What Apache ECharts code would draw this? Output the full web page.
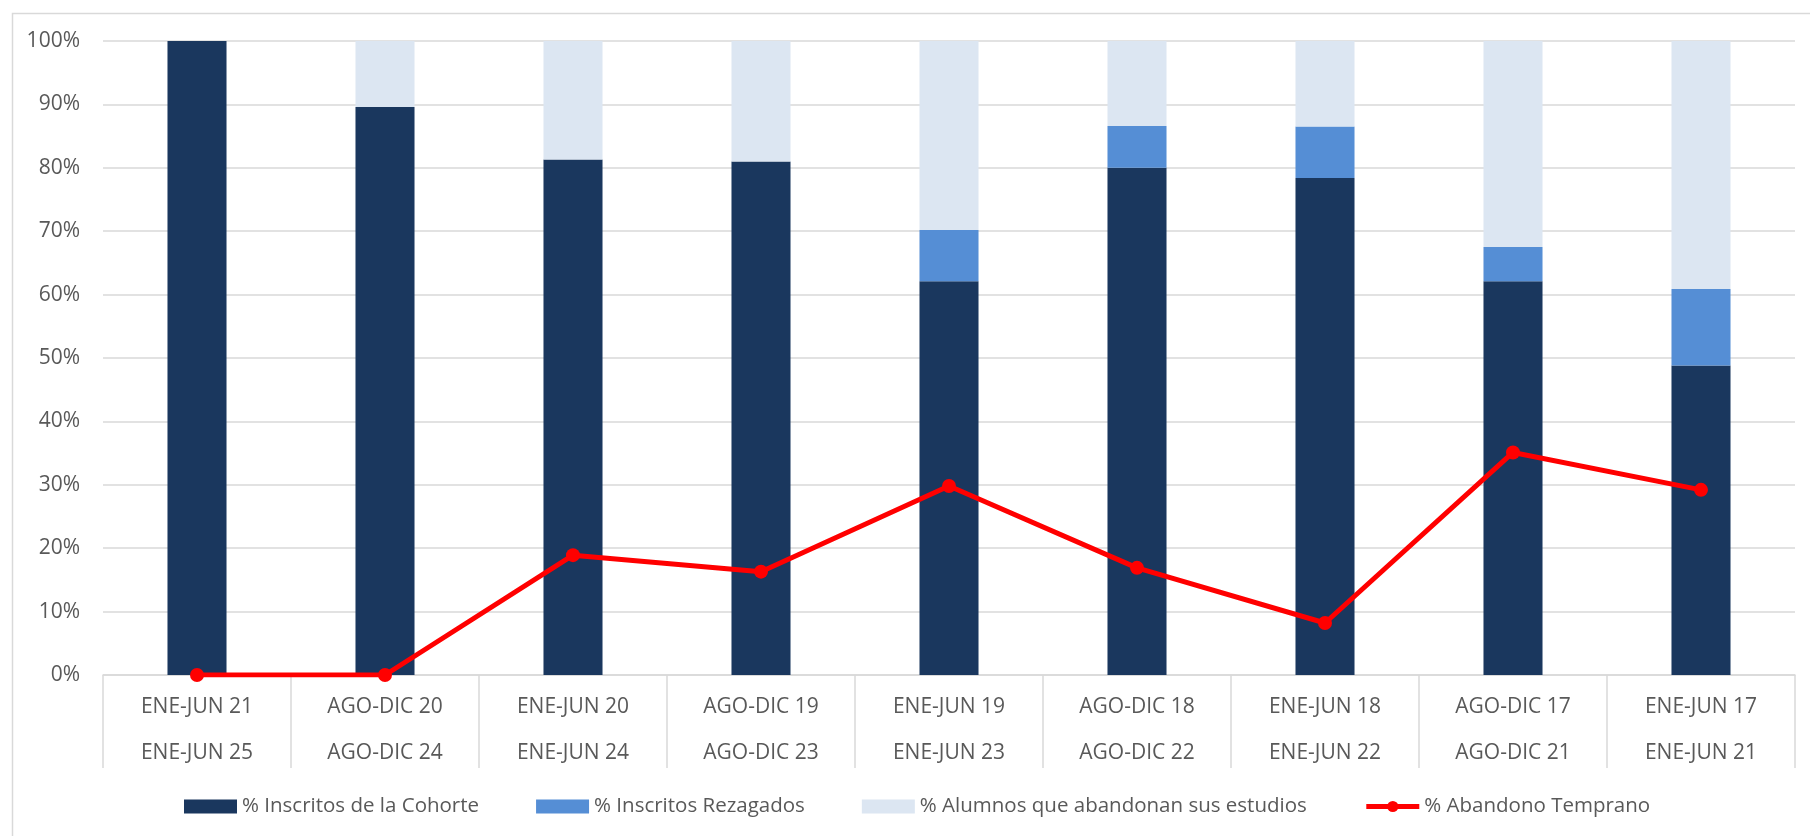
<!DOCTYPE html>
<html>
<head>
<meta charset="utf-8">
<script src="https://cdn.jsdelivr.net/npm/echarts@6/dist/echarts.min.js"></script>
<style>
html,body{margin:0;padding:0;background:#fff;}
#chart{width:1810px;height:836px;}
</style>
</head>
<body>
<div id="chart"></div>
<script>
const periodoIngreso = ['ENE-JUN 21','AGO-DIC 20','ENE-JUN 20','AGO-DIC 19','ENE-JUN 19','AGO-DIC 18','ENE-JUN 18','AGO-DIC 17','ENE-JUN 17'];
const periodoEgreso  = ['ENE-JUN 25','AGO-DIC 24','ENE-JUN 24','AGO-DIC 23','ENE-JUN 23','AGO-DIC 22','ENE-JUN 22','AGO-DIC 21','ENE-JUN 21'];
const inscritosCohorte = [100, 89.6, 81.3, 81.0, 62.1, 80.0, 78.4, 62.1, 48.8];
const inscritosRezagados = [0, 0, 0, 0, 8.1, 6.6, 8.1, 5.4, 12.1];
const alumnosAbandonan = [0, 10.4, 18.7, 19.0, 29.8, 13.4, 13.5, 32.5, 39.1];
const abandonoTemprano = [0, 0, 18.9, 16.3, 29.8, 16.9, 8.2, 35.1, 29.2];
const yTicks = [0,10,20,30,40,50,60,70,80,90,100];

const categories = periodoIngreso.map((p, i) => p + '\n' + periodoEgreso[i]);
const FONT = '"Open Sans", "Noto Sans", sans-serif';
const TXT = '#595959';
const GRID = '#D9D9D9';
const RED = '#FF0000';

const chart = echarts.init(document.getElementById('chart'), null, {renderer:'canvas'});
chart.setOption({
  animation: false,
  backgroundColor: '#fff',
  textStyle: {fontFamily: FONT, color: TXT},
  graphic: [{
    type: 'rect', left: 10, top: 11, z: -1, silent: true,
    shape: {width: 1900, height: 900},
    style: {fill: 'none', stroke: GRID, lineWidth: 1.5}
  }],
  grid: {left: 103, right: 15, top: 41, bottom: 161, containLabel: false},
  legend: {
    left: 179, top: 791,
    itemWidth: 53, itemHeight: 14, itemGap: 57,
    textStyle: {fontFamily: FONT, fontSize: 20.5, color: TXT},
    data: [
      {name: '% Inscritos de la Cohorte', icon: 'rect'},
      {name: '% Inscritos Rezagados', icon: 'rect'},
      {name: '% Alumnos que abandonan sus estudios', icon: 'rect'},
      {name: '% Abandono Temprano', lineStyle: {width: 5, color: RED}, itemStyle: {color: RED}}
    ]
  },
  xAxis: {
    type: 'category',
    data: categories,
    boundaryGap: true,
    axisLine: {show: true, lineStyle: {color: GRID, width: 1.5}},
    axisTick: {show: true, interval: 0, length: 93, lineStyle: {color: GRID, width: 1.5}},
    axisLabel: {interval: 0, margin: 9, fontFamily: FONT, fontSize: 21, color: TXT, lineHeight: 46}
  },
  yAxis: {
    type: 'value', min: yTicks[0], max: yTicks[yTicks.length-1], interval: 10,
    axisLine: {show: false}, axisTick: {show: false},
    axisLabel: {formatter: '{value}%', margin: 23, fontFamily: FONT, fontSize: 21, color: TXT},
    splitLine: {show: true, lineStyle: {color: GRID, width: 1.5}}
  },
  series: [
    {name: '% Inscritos de la Cohorte', type: 'bar', stack: 'total', barWidth: '31.4%',
     itemStyle: {color: '#1A375E'}, data: inscritosCohorte},
    {name: '% Inscritos Rezagados', type: 'bar', stack: 'total',
     itemStyle: {color: '#558ED5'}, data: inscritosRezagados},
    {name: '% Alumnos que abandonan sus estudios', type: 'bar', stack: 'total',
     itemStyle: {color: '#DCE6F2'}, data: alumnosAbandonan},
    {name: '% Abandono Temprano', type: 'line', z: 10,
     symbol: 'circle', symbolSize: 14,
     lineStyle: {color: RED, width: 5},
     itemStyle: {color: RED},
     data: abandonoTemprano}
  ]
});
</script>
</body>
</html>
